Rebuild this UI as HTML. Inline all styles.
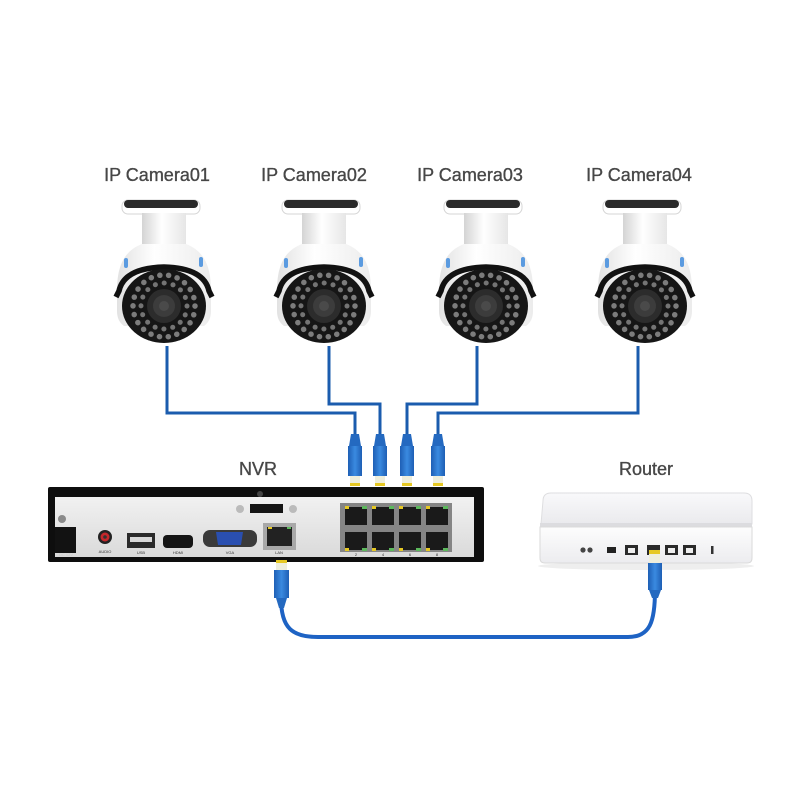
<!DOCTYPE html>
<html>
<head>
<meta charset="utf-8">
<style>
html,body{margin:0;padding:0;background:#fff;}
svg{display:block;}
text{font-family:"Liberation Sans",sans-serif;}
</style>
</head>
<body>
<svg width="800" height="800" viewBox="0 0 800 800" xmlns="http://www.w3.org/2000/svg">
<defs>
  <linearGradient id="stem" x1="0" y1="0" x2="1" y2="0">
    <stop offset="0" stop-color="#d4d4d4"/>
    <stop offset="0.45" stop-color="#ffffff"/>
    <stop offset="1" stop-color="#e6e6e6"/>
  </linearGradient>
  <linearGradient id="body" x1="0" y1="0" x2="1" y2="0">
    <stop offset="0" stop-color="#e2e2e2"/>
    <stop offset="0.4" stop-color="#ffffff"/>
    <stop offset="1" stop-color="#ececec"/>
  </linearGradient>
  <linearGradient id="panel" x1="0" y1="0" x2="0" y2="1">
    <stop offset="0" stop-color="#f1f1f1"/>
    <stop offset="1" stop-color="#dadada"/>
  </linearGradient>
  <linearGradient id="rtop" x1="0" y1="0" x2="0" y2="1">
    <stop offset="0" stop-color="#f9f9fb"/>
    <stop offset="1" stop-color="#eaeaed"/>
  </linearGradient>
  <linearGradient id="rfront" x1="0" y1="0" x2="0" y2="1">
    <stop offset="0" stop-color="#fdfdfd"/>
    <stop offset="1" stop-color="#ececef"/>
  </linearGradient>
  <linearGradient id="conn" x1="0" y1="0" x2="1" y2="0">
    <stop offset="0" stop-color="#1e5fb5"/>
    <stop offset="0.5" stop-color="#3a8ae0"/>
    <stop offset="1" stop-color="#1e5fb5"/>
  </linearGradient>

  <g id="cam">
    <!-- mount plate -->
    <rect x="-42" y="-106" width="78" height="14" rx="6" fill="#ffffff" stroke="#d6d6d6" stroke-width="1"/>
    <rect x="-40" y="-106" width="74" height="8" rx="4" fill="#2a2a2a"/>
    <!-- stem -->
    <rect x="-22" y="-93" width="44" height="36" fill="url(#stem)"/>
    <!-- body dome -->
    <path d="M -22,-62 C -40,-55 -47,-40 -47,-15 L -47,5 Q -47,15 -40,20 L 40,20 Q 47,15 47,5 L 47,-15 C 47,-40 40,-55 22,-62 Z" fill="url(#body)"/>
    <!-- blue accents -->
    <rect x="-40" y="-48" width="4" height="10" rx="2" fill="#5b9be0"/>
    <rect x="35" y="-49" width="4" height="10" rx="2" fill="#5b9be0"/>
    <!-- hood -->
    <path d="M -48,-9 L -45,-15 Q -40,-38 0,-39 Q 40,-38 45,-15 L 48,-9" fill="none" stroke="#111" stroke-width="5.5"/>
    <!-- lens front -->
    <ellipse cx="0" cy="0" rx="42" ry="37" fill="#161616"/>
    <circle cx="0" cy="0" r="31" fill="none" stroke="#7c7c7c" stroke-width="5.5" stroke-linecap="round" stroke-dasharray="0.1 8.75"/>
    <circle cx="0" cy="0" r="23" fill="none" stroke="#747474" stroke-width="5" stroke-linecap="round" stroke-dasharray="0.1 8.93"/>
    <circle cx="0" cy="0" r="17" fill="#2c2c2c"/>
    <circle cx="0" cy="0" r="11" fill="#3c3c3c"/>
    <circle cx="0" cy="0" r="5" fill="#4a4a4a"/>
  </g>

  <g id="plug">
    <path d="M -4,-12 L 4,-12 L 6,0 L -6,0 Z" fill="#2469c0"/>
    <rect x="-7" y="0" width="14" height="30" fill="url(#conn)"/>
    <rect x="-5" y="30" width="10" height="10" fill="#eeeedc"/>
    <rect x="-5" y="37" width="10" height="3" fill="#e6c823"/>
  </g>
</defs>

<rect width="800" height="800" fill="#ffffff"/>

<!-- Labels -->
<g fill="#474747" stroke="#474747" stroke-width="0.35" font-size="18" text-anchor="middle">
  <text x="157" y="181">IP Camera01</text>
  <text x="314" y="181">IP Camera02</text>
  <text x="470" y="181">IP Camera03</text>
  <text x="639" y="181">IP Camera04</text>
  <text x="258" y="475">NVR</text>
  <text x="646" y="475">Router</text>
</g>

<!-- Cameras -->
<use href="#cam" transform="translate(164,306)"/>
<use href="#cam" transform="translate(324,306)"/>
<use href="#cam" transform="translate(486,306)"/>
<use href="#cam" transform="translate(645,306)"/>

<!-- Camera cables -->
<g fill="none" stroke="#1b5cae" stroke-width="3" stroke-linejoin="miter">
  <polyline points="167,346 167,413 355,413 355,440"/>
  <polyline points="329,346 329,404 380,404 380,440"/>
  <polyline points="477,346 477,404 407,404 407,440"/>
  <polyline points="638,346 638,413 438,413 438,440"/>
</g>

<!-- plugs into NVR -->
<use href="#plug" transform="translate(355,446)"/>
<use href="#plug" transform="translate(380,446)"/>
<use href="#plug" transform="translate(407,446)"/>
<use href="#plug" transform="translate(438,446)"/>

<!-- NVR -->
<rect x="48" y="487" width="436" height="75" rx="2" fill="#0e0e0e"/>
<rect x="55" y="497" width="419" height="60" fill="url(#panel)"/>
<circle cx="260" cy="494" r="3" fill="#444"/>
<circle cx="62" cy="519" r="4" fill="#8a8a8a"/>
<rect x="55" y="527" width="21" height="26" fill="#121212"/>
<circle cx="105" cy="537" r="7" fill="#222"/>
<circle cx="105" cy="537" r="4.5" fill="#c4282b"/>
<circle cx="105" cy="537" r="1.8" fill="#333"/>
<rect x="127" y="533" width="28" height="15" fill="#2a2a2a"/>
<rect x="130" y="537" width="22" height="5" fill="#d8d8d8"/>
<rect x="163" y="535" width="30" height="13" rx="4" fill="#151515"/>
<rect x="203" y="530" width="54" height="17" rx="7" fill="#3a3a3a"/>
<path d="M 216,532 L 243,532 L 241,545 L 218,545 Z" fill="#2a4fb0"/>
<circle cx="240" cy="509" r="4" fill="#bbb"/>
<rect x="250" y="504" width="33" height="9" fill="#151515"/>
<circle cx="293" cy="509" r="4" fill="#bbb"/>
<rect x="263" y="523" width="33" height="27" fill="#a8a8a8"/>
<rect x="267" y="527" width="25" height="19" fill="#222"/>
<rect x="268" y="527" width="4" height="2" fill="#e6c823"/>
<rect x="287" y="527" width="4" height="2" fill="#5cb85c"/>
<g font-size="4" fill="#333" text-anchor="middle">
  <text x="66" y="556" fill="#ccc">DC 12V</text>
  <text x="105" y="553">AUDIO</text>
  <text x="141" y="554">USB</text>
  <text x="178" y="554">HDMI</text>
  <text x="230" y="554">VGA</text>
  <text x="279" y="554">LAN</text>
</g>
<rect x="340" y="503" width="112" height="49" fill="#858585"/>
<g fill="#1a1a1a">
  <rect x="345" y="507" width="22" height="18"/>
  <rect x="372" y="507" width="22" height="18"/>
  <rect x="399" y="507" width="22" height="18"/>
  <rect x="426" y="507" width="22" height="18"/>
  <rect x="345" y="532" width="22" height="18"/>
  <rect x="372" y="532" width="22" height="18"/>
  <rect x="399" y="532" width="22" height="18"/>
  <rect x="426" y="532" width="22" height="18"/>
</g>
<g fill="#e6c823">
  <rect x="345" y="506" width="4" height="3"/><rect x="372" y="506" width="4" height="3"/>
  <rect x="399" y="506" width="4" height="3"/><rect x="426" y="506" width="4" height="3"/>
  <rect x="345" y="548" width="4" height="3"/><rect x="372" y="548" width="4" height="3"/>
  <rect x="399" y="548" width="4" height="3"/><rect x="426" y="548" width="4" height="3"/>
</g>
<g fill="#5cb85c">
  <rect x="362" y="506" width="5" height="3"/><rect x="389" y="506" width="5" height="3"/>
  <rect x="416" y="506" width="5" height="3"/><rect x="443" y="506" width="5" height="3"/>
  <rect x="362" y="548" width="5" height="3"/><rect x="389" y="548" width="5" height="3"/>
  <rect x="416" y="548" width="5" height="3"/><rect x="443" y="548" width="5" height="3"/>
</g>
<g font-size="4" fill="#333" text-anchor="middle">
  <text x="356" y="556">2</text><text x="383" y="556">4</text><text x="410" y="556">6</text><text x="437" y="556">8</text>
</g>

<!-- Router -->
<ellipse cx="646" cy="566" rx="108" ry="4" fill="#eeeeee"/>
<path d="M 551,493 L 744,493 Q 752,493 752,501 L 752,524 L 541,524 L 543,501 Q 543,493 551,493 Z" fill="url(#rtop)" stroke="#dedee0" stroke-width="1"/>
<rect x="540" y="523" width="212" height="4" fill="#dcdcdf"/>
<path d="M 540,527 L 752,527 L 752,558 Q 752,563 747,563 L 545,563 Q 540,563 540,558 Z" fill="url(#rfront)" stroke="#dadada" stroke-width="1"/>
<circle cx="583" cy="550" r="2.6" fill="#444"/>
<circle cx="590" cy="550" r="2.6" fill="#444"/>
<rect x="607" y="547" width="9" height="6" fill="#222"/>
<rect x="625" y="545" width="13" height="10" fill="#2a2a2a"/>
<rect x="628" y="548" width="7" height="5" fill="#eee"/>
<rect x="647" y="545" width="13" height="10" fill="#2a2a2a"/>
<rect x="665" y="545" width="13" height="10" fill="#2a2a2a"/>
<rect x="668" y="548" width="7" height="5" fill="#eee"/>
<rect x="683" y="545" width="13" height="10" fill="#2a2a2a"/>
<rect x="686" y="548" width="7" height="5" fill="#eee"/>
<rect x="711" y="546" width="2.5" height="8" fill="#333"/>

<!-- Bottom cable -->
<path d="M 281,598 C 281,628 292,637 318,637 L 628,637 C 650,637 655,622 655,590" fill="none" stroke="#1e63c4" stroke-width="4"/>
<rect x="276" y="560" width="11" height="11" fill="#eeeedc"/>
<rect x="276" y="560" width="11" height="3" fill="#e6c823"/>
<rect x="274" y="570" width="15" height="28" fill="url(#conn)"/>
<path d="M 276,598 L 287,598 L 284,608 L 279,608 Z" fill="#2469c0"/>
<rect x="649" y="550" width="11" height="13" fill="#eeeedc"/>
<rect x="649" y="550" width="11" height="4" fill="#e6c823"/>
<rect x="648" y="563" width="14" height="27" fill="url(#conn)"/>
<path d="M 649,590 L 661,590 L 658,598 L 652,598 Z" fill="#2469c0"/>
</svg>
</body>
</html>
